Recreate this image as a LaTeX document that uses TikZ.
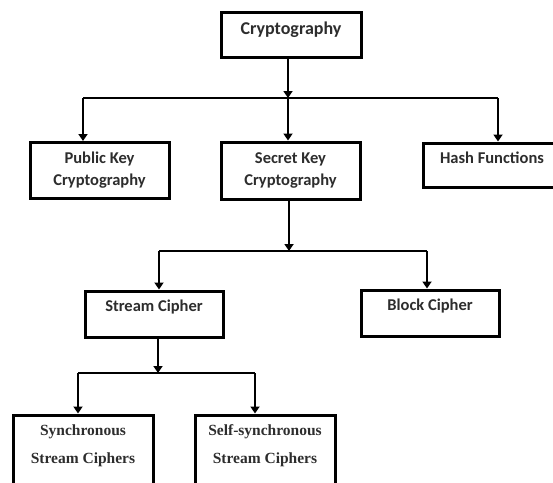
\documentclass[tikz,border=0pt]{standalone}
\usepackage{fontspec}
\newfontfamily\boxsans{Carlito}
\newfontfamily\boxserif{Liberation Serif}
\usetikzlibrary{arrows.meta}
\definecolor{ink}{RGB}{45,45,45}
\tikzset{
  box/.style={draw=black, line width=3pt, inner sep=0pt, fill=white},
  sanslabel/.style={text=ink, align=center, font=\boxsans\bfseries\fontsize{16.5}{22}\selectfont},
  seriflabel/.style={text=ink, align=center, font=\boxserif\bfseries\fontsize{15.5}{28}\selectfont},
  wire/.style={draw=black, line width=2.8pt},
  feed/.style={wire, -{Triangle[width=9pt,length=7pt]}}
}
\begin{document}
\begin{tikzpicture}[x=1pt,y=-1pt]
  \useasboundingbox (0,0) rectangle (553,482);
  \clip (0,0) rectangle (553,482);
  \fill[white] (0,0) rectangle (553,482);

  % boxes (centres and sizes in picture units)
  \node[box, minimum width=140pt, minimum height=45pt] (crypt)  at (291,34.5)  {};
  \node[box, minimum width=139pt, minimum height=56pt] (pub)    at (99.5,170.5) {};
  \node[box, minimum width=139pt, minimum height=57pt] (sec)    at (290.5,170.5) {};
  \node[box, minimum width=150pt, minimum height=44pt] (hash)   at (498,165)   {};
  \node[box, minimum width=138pt, minimum height=46pt] (stream) at (154,314)   {};
  \node[box, minimum width=138pt, minimum height=46pt] (block)  at (430,313)   {};
  \node[box, minimum width=140pt, minimum height=90pt] (sync)   at (83,460)    {};
  \node[box, minimum width=140pt, minimum height=90pt] (selfs)  at (265,460)   {};

  % labels
  \node[sanslabel, font=\boxsans\bfseries\fontsize{18}{22}\selectfont] (crypt-t) at (291,30) {Cryptography};
  \node[sanslabel] (pub-t)    at (99.5,170) {Public Key\\Cryptography};
  \node[sanslabel] (sec-t)    at (290.5,170) {Secret Key\\Cryptography};
  \node[sanslabel] (hash-t)   at (492,158) {Hash Functions};
  \node[sanslabel] (stream-t) at (154,307) {Stream Cipher};
  \node[sanslabel] (block-t)  at (430,306) {Block Cipher};
  \node[seriflabel] (sync-t)  at (83,446)  {Synchronous\\Stream Ciphers};
  \node[seriflabel] (selfs-t) at (265,446) {Self-synchronous\\Stream Ciphers};

  % branch points
  \coordinate (b1)  at (288,98);
  \coordinate (b1l) at (83,98);
  \coordinate (b1r) at (498,98);
  \coordinate (b2)  at (289,251);
  \coordinate (b2l) at (159,251);
  \coordinate (b2r) at (427,251);
  \coordinate (b3)  at (158,373);
  \coordinate (b3l) at (78,373);
  \coordinate (b3r) at (255,373);

  % level 1
  \draw[feed] (b1 |- crypt.south) -- (b1);
  \draw[wire] (b1l) -- (b1r);
  \draw[feed] (b1l) -- (b1l |- pub.north);
  \draw[feed] (b1)  -- (b1 |- sec.north);
  \draw[feed] (b1r) -- (b1r |- hash.north);

  % level 2
  \draw[feed] (b2 |- sec.south) -- (b2);
  \draw[wire] (b2l) -- (b2r);
  \draw[feed] (b2l) -- (b2l |- stream.north);
  \draw[feed] (b2r) -- (b2r |- block.north);

  % level 3
  \draw[feed] (b3 |- stream.south) -- (b3);
  \draw[wire] (b3l) -- (b3r);
  \draw[feed] (b3l) -- (b3l |- sync.north);
  \draw[feed] (b3r) -- (b3r |- selfs.north);
\end{tikzpicture}
\end{document}
